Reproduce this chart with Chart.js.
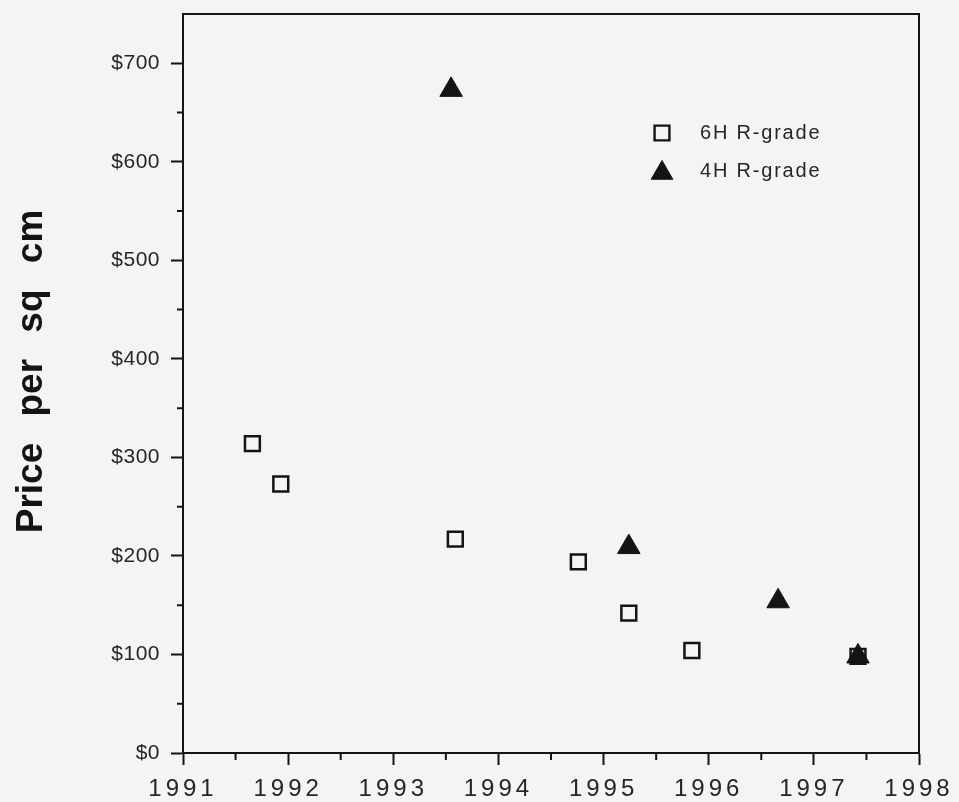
<!DOCTYPE html>
<html>
<head>
<meta charset="utf-8">
<title>Price per sq cm</title>
<script src="https://cdn.jsdelivr.net/npm/chart.js@4/dist/chart.umd.min.js"></script>
<style>
  html, body { margin: 0; padding: 0; background: #f4f4f4; }
  #wrap { width: 959px; height: 802px; position: relative; }
</style>
</head>
<body>
<div id="wrap"><canvas id="scatter"></canvas></div>
<script>
// values
const years6H = [1991.66, 1991.93, 1993.59, 1994.76, 1995.24, 1995.84, 1997.42];
const price6H = [314, 273, 217, 194, 142, 104, 98];
const years4H = [1993.55, 1995.24, 1996.66, 1997.42];
const price4H = [673, 209, 154, 98];
const seriesNames = ["6H R-grade", "4H R-grade"];
const yearRange = [1991, 1998];
const priceRange = [0, 750];

const ink = "#141414";
const textInk = "#262626";
const fontFamily = '"Liberation Sans", Arial, Helvetica, sans-serif';

function toPoints(xs, ys) {
  return xs.map((x, i) => ({ x: x, y: ys[i] }));
}

// small ticks between the labelled ones, and the box around the plot
const frameAndMinorTicks = {
  id: "frameAndMinorTicks",
  afterDraw(chart) {
    const ctx = chart.ctx;
    const a = chart.chartArea;
    const xs = chart.scales.x, ys = chart.scales.y;
    ctx.save();
    ctx.strokeStyle = ink;
    ctx.lineWidth = 2;
    ctx.beginPath();
    ctx.moveTo(a.left, a.top);
    ctx.lineTo(a.right, a.top);
    ctx.lineTo(a.right, a.bottom);
    for (let v = yearRange[0] + 0.5; v < yearRange[1]; v += 1) {
      const px = xs.getPixelForValue(v);
      ctx.moveTo(px, a.bottom);
      ctx.lineTo(px, a.bottom + 7);
    }
    for (let v = 50; v < priceRange[1]; v += 100) {
      const py = ys.getPixelForValue(v);
      ctx.moveTo(a.left, py);
      ctx.lineTo(a.left - 6, py);
    }
    ctx.stroke();

    // legend inside the plot
    const lx = a.right - 257, tx = a.right - 219;
    const rows = [a.top + 119, a.top + 157];
    const styles = [
      { pointStyle: "rect", radius: 10.5, borderWidth: 2.4 },
      { pointStyle: "triangle", radius: 12.5, borderWidth: 1 }
    ];
    ctx.letterSpacing = "1.8px";
    ctx.font = "20px " + fontFamily;
    ctx.textBaseline = "middle";
    ctx.textAlign = "left";
    rows.forEach((ry, i) => {
      ctx.fillStyle = i === 0 ? "rgba(0,0,0,0)" : ink;
      ctx.strokeStyle = ink;
      ctx.lineWidth = styles[i].borderWidth;
      Chart.helpers.drawPoint(ctx, styles[i], lx, ry + (i === 1 ? 2 : 0));
      ctx.fillStyle = textInk;
      ctx.fillText(seriesNames[i], tx, ry);
    });
    ctx.restore();
  }
};

const ctxScatter = document.getElementById("scatter").getContext("2d");
const scatterChart = new Chart(ctxScatter, {
  type: "scatter",
  data: {
    datasets: [{
        label: seriesNames[0],
        data: toPoints(years6H, price6H),
        pointStyle: "rect",
        pointRadius: 10.5,
        pointHoverRadius: 10.5,
        borderColor: ink,
        borderWidth: 2.5,
        backgroundColor: "rgba(0,0,0,0)",
        order: 2
      }, {
        label: seriesNames[1],
        data: toPoints(years4H, price4H),
        pointStyle: "triangle",
        pointRadius: 13,
        pointHoverRadius: 13,
        borderColor: ink,
        borderWidth: 1,
        backgroundColor: ink,
        order: 1
      }]
  },
  plugins: [frameAndMinorTicks],
  options: {
    responsive: true,
    maintainAspectRatio: false,
    animation: false,
    layout: { padding: { top: 11, right: 40, bottom: 0, left: 0 } },
    plugins: {
      legend: { display: false },
      tooltip: { enabled: false }
    },
    scales: {
      x: {
        type: "linear",
        min: yearRange[0],
        max: yearRange[1],
        afterFit: s => {
          s.height = 49;
          s.paddingLeft = 0; s.paddingRight = 0;
        },
        grid: { drawOnChartArea: false, tickLength: 12, tickColor: ink, tickWidth: 2 },
        border: { color: ink, width: 2 },
        ticks: {
          stepSize: 1,
          padding: 10,
          color: textInk,
          font: { family: fontFamily, size: 24 },
          callback: v => String(v)
        }
      },
      y: {
        min: priceRange[0],
        max: priceRange[1],
        afterFit: s => {
          s.width = 183;
          s.paddingTop = 0; s.paddingBottom = 0;
        },
        afterBuildTicks: s => { s.ticks = s.ticks.filter(t => t.value <= 700); },
        grid: { drawOnChartArea: false, tickLength: 12, tickColor: ink, tickWidth: 2 },
        border: { color: ink, width: 2 },
        title: {
          display: true,
          text: "Price per sq cm",
          color: ink,
          padding: { top: 10, bottom: 0 },
          font: { family: fontFamily, size: 37, weight: "bold" }
        },
        ticks: {
          stepSize: 100,
          padding: 11,
          color: textInk,
          font: { family: fontFamily, size: 21 },
          callback: v => "$" + v
        }
      }
    }
  }
});

// the original type is widely spaced; canvas spacing is set per scale
function spaced(scale, method, letter, word, shiftY) {
  const orig = scale[method].bind(scale);
  scale[method] = function () {
    const c = scale.ctx;
    c.save();
    c.letterSpacing = letter;
    c.wordSpacing = word;
    if (shiftY) c.translate(0, shiftY);
    orig.apply(null, arguments);
    c.restore();
  };
}
spaced(scatterChart.scales.x, "drawLabels", "4px", "0px", 0);
spaced(scatterChart.scales.y, "drawLabels", "0.5px", "0px", 0);
spaced(scatterChart.scales.y, "drawTitle", "0px", "16px", -12);
scatterChart.draw();
</script>
</body>
</html>
